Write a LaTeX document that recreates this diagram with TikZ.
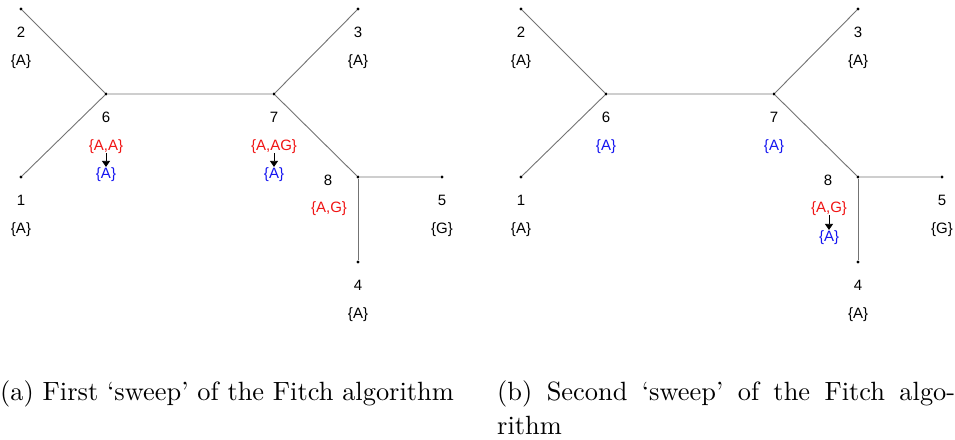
\documentclass[tikz,border=0pt]{standalone}
\usepackage{fontspec}
\newfontfamily\arialf{Liberation Sans}
\newfontfamily\capfont{lmroman10-regular}[Extension=.otf]
\usetikzlibrary{arrows.meta}
\definecolor{fred}{RGB}{240,20,20}
\definecolor{fblue}{RGB}{20,20,240}
\tikzset{
  vtx/.style={circle,fill=black,inner sep=0pt,minimum size=3.2pt},
  edge/.style={draw=black!55,line width=0.9pt},
  lbl/.style={font=\arialf\fontsize{15}{18}\selectfont,inner sep=0pt,anchor=base},
  redl/.style={lbl,text=fred},
  bluel/.style={lbl,text=fblue},
  sw/.style={-{Triangle[width=8pt,length=6pt]},line width=0.8pt},
  captxt/.style={font=\capfont\fontsize{26.4}{34}\selectfont,inner sep=0pt,anchor=base west}
}
\begin{document}
\begin{tikzpicture}[x=1pt,y=-1pt]
\useasboundingbox (0,0) rectangle (955,439);
% ---------- panel (a)
\begin{scope}[name prefix=a-]
\node[vtx] (n2) at (21,9) {};
\node[vtx] (n6) at (106,94) {};
\node[vtx] (n7) at (274,94) {};
\node[vtx] (n3) at (358,9) {};
\node[vtx] (n1) at (21,177) {};
\node[vtx] (n8) at (358,177) {};
\node[vtx] (n5) at (442,177) {};
\node[vtx] (n4) at (358,262) {};
\draw[edge] (n2) -- (n6) -- (n7) -- (n3);
\draw[edge] (n1) -- (n6);
\draw[edge] (n7) -- (n8) -- (n5);
\draw[edge] (n8) -- (n4);
\node[lbl] (t2) at (21,37) {2};
\node[lbl] (s2) at (21,65) {\{A\}};
\node[lbl] (t3) at (358,37) {3};
\node[lbl] (s3) at (358,65) {\{A\}};
\node[lbl] (t1) at (21,205) {1};
\node[lbl] (s1) at (21,233) {\{A\}};
\node[lbl] (t5) at (442,205) {5};
\node[lbl] (s5) at (442,233) {\{G\}};
\node[lbl] (t4) at (358,290) {4};
\node[lbl] (s4) at (358,318) {\{A\}};
\node[lbl] (t6) at (106,122) {6};
\node[redl] (r6) at (106,150) {\{A,A\}};
\node[bluel] (b6) at (106,178) {\{A\}};
\node[lbl] (t7) at (274,122) {7};
\node[redl] (r7) at (274,150) {\{A,AG\}};
\node[bluel] (b7) at (274,178) {\{A\}};
\node[lbl] (t8) at (328,185) {8};
\node[redl] (r8) at (329,212) {\{A,G\}};
\draw[sw] (r6.south) -- (b6.north);
\draw[sw] (r7.south) -- (b7.north);
\end{scope}
% ---------- panel (b)
\begin{scope}[name prefix=b-,xshift=500pt]
\node[vtx] (n2) at (21,9) {};
\node[vtx] (n6) at (106,94) {};
\node[vtx] (n7) at (274,94) {};
\node[vtx] (n3) at (358,9) {};
\node[vtx] (n1) at (21,177) {};
\node[vtx] (n8) at (358,177) {};
\node[vtx] (n5) at (442,177) {};
\node[vtx] (n4) at (358,262) {};
\draw[edge] (n2) -- (n6) -- (n7) -- (n3);
\draw[edge] (n1) -- (n6);
\draw[edge] (n7) -- (n8) -- (n5);
\draw[edge] (n8) -- (n4);
\node[lbl] (t2) at (21,37) {2};
\node[lbl] (s2) at (21,65) {\{A\}};
\node[lbl] (t3) at (358,37) {3};
\node[lbl] (s3) at (358,65) {\{A\}};
\node[lbl] (t1) at (21,205) {1};
\node[lbl] (s1) at (21,233) {\{A\}};
\node[lbl] (t5) at (442,205) {5};
\node[lbl] (s5) at (442,233) {\{G\}};
\node[lbl] (t4) at (358,290) {4};
\node[lbl] (s4) at (358,318) {\{A\}};
\node[lbl] (t6) at (106,122) {6};
\node[bluel] (b6) at (106,150) {\{A\}};
\node[lbl] (t7) at (274,122) {7};
\node[bluel] (b7) at (274,150) {\{A\}};
\node[lbl] (t8) at (328,185) {8};
\node[redl] (r8) at (329,212) {\{A,G\}};
\node[bluel] (b8) at (329,241) {\{A\}};
\draw[sw] (r8.south) -- (b8.north);
\end{scope}
% ---------- captions
\node[captxt] (ca) at (0,400) {(a) First ‘sweep’ of the Fitch algorithm};
\node[captxt,text width=458pt,align=justify,anchor=north west] (cb) at (497,380)
  {(b) Second ‘sweep’ of the Fitch algo\-rithm};
\end{tikzpicture}
\end{document}
